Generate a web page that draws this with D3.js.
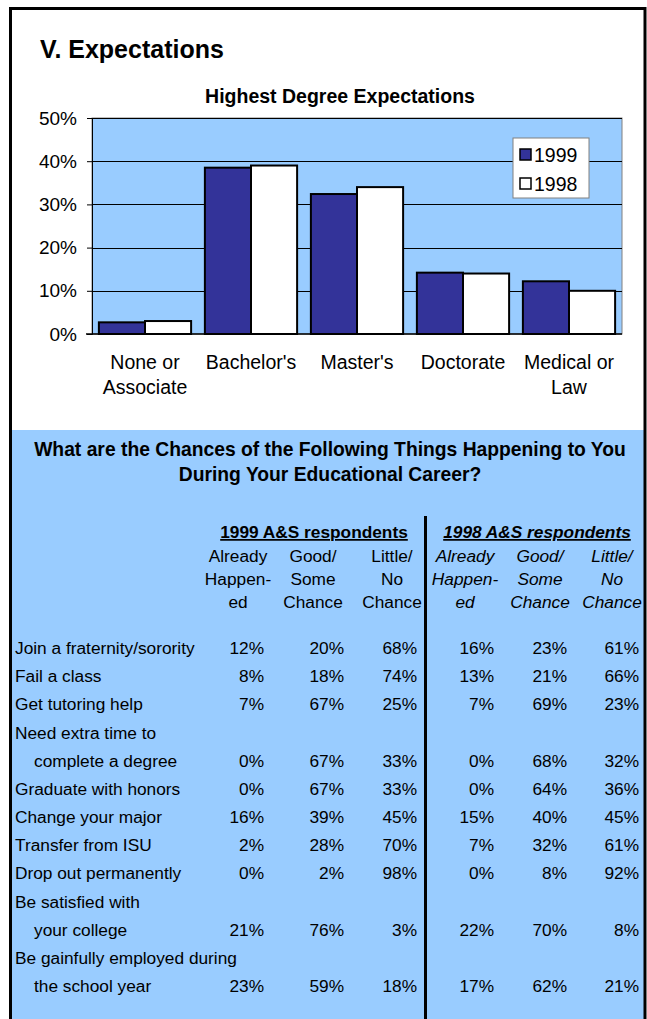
<!DOCTYPE html>
<html>
<head>
<meta charset="utf-8">
<script src="https://cdn.jsdelivr.net/npm/d3@7"></script>
<style>
	body { margin: 0; background: #fff; }
	svg text { font-family: "Liberation Sans", Arial, sans-serif; fill: #000; }
</style>
</head>
<body>
<div id="content"></div>
<script>
/***********************************************************************/
//Data
/***********************************************************************/
const degrees = [['None or', 'Associate'], ["Bachelor's"], ["Master's"], ['Doctorate'], ['Medical or', 'Law']]
const years = ['1999', '1998']
const deg1999 = [2.7, 38.5, 32.4, 14.2, 12.2]
const deg1998 = [3.0, 39.0, 34.0, 14.0, 10.0]
const yTickValues = [0, 10, 20, 30, 40, 50]

const items = [
	['Join a fraternity/sorority'],
	['Fail a class'],
	['Get tutoring help'],
	['Need extra time to', 'complete a degree'],
	['Graduate with honors'],
	['Change your major'],
	['Transfer from ISU'],
	['Drop out permanently'],
	['Be satisfied with', 'your college'],
	['Be gainfully employed during', 'the school year']
]
const already1999 = [12, 8, 7, 0, 0, 16, 2, 0, 21, 23]
const chance1999 = [20, 18, 67, 67, 67, 39, 28, 2, 76, 59]
const little1999 = [68, 74, 25, 33, 33, 45, 70, 98, 3, 18]
const already1998 = [16, 13, 7, 0, 0, 15, 7, 0, 22, 17]
const chance1998 = [23, 21, 69, 68, 64, 40, 32, 8, 70, 62]
const little1998 = [61, 66, 23, 32, 36, 45, 61, 92, 8, 21]
const colHeads = [['Already', 'Happen-', 'ed'], ['Good/', 'Some', 'Chance'], ['Little/', 'No', 'Chance']]

/***********************************************************************/
//Dom
/***********************************************************************/
const width = 647
const height = 1019
const navy = '#333399'
const lightBlue = '#99ccff'

const svg = d3.select('#content')
	.append('svg')
	.attr('width', width)
	.attr('height', height)

// lower blue panel
svg.append('rect')
	.attr('x', 12).attr('y', 430)
	.attr('width', 632).attr('height', height - 430)
	.attr('fill', lightBlue)

// frame
svg.append('path')
	.attr('d', `M10.5,${height}V8.5H645V${height}`)
	.attr('fill', 'none')
	.attr('stroke', '#000')
	.attr('stroke-width', 3)

svg.append('text')
	.attr('x', 40).attr('y', 58)
	.attr('font-size', '25px')
	.attr('font-weight', 'bold')
	.text('V. Expectations')

/***********************************************************************/
//Bar chart
/***********************************************************************/
const plot = { left: 92, right: 622, top: 118, bottom: 334 }

svg.append('text')
	.attr('x', 340).attr('y', 103)
	.attr('text-anchor', 'middle')
	.attr('font-size', '19.5px')
	.attr('font-weight', 'bold')
	.text('Highest Degree Expectations')

const xScale = d3.scaleBand()
	.domain(d3.range(degrees.length))
	.range([plot.left, plot.right])
	.paddingInner(0.13)
	.paddingOuter(0.065)

const xSub = d3.scaleBand()
	.domain(years)
	.range([0, xScale.bandwidth()])

const yScale = d3.scaleLinear()
	.domain([0, 50])
	.range([plot.bottom, plot.top])

svg.append('rect')
	.attr('x', plot.left).attr('y', plot.top)
	.attr('width', plot.right - plot.left)
	.attr('height', plot.bottom - plot.top)
	.attr('fill', lightBlue)
	.attr('stroke', '#808080')
	.attr('stroke-width', 1)

const yAxisG = svg.append('g')
	.attr('transform', `translate(${plot.left},0)`)
	.call(d3.axisLeft(yScale)
		.tickValues(yTickValues)
		.tickFormat(d => d + '%')
		.tickSize(5)
		.tickPadding(10))

yAxisG.select('.domain').attr('stroke', '#000')
yAxisG.selectAll('text')
	.attr('font-size', '19px')
	.attr('font-family', '"Liberation Sans", Arial, sans-serif')

// gridlines
svg.append('g')
	.selectAll('line')
	.data(yTickValues.filter(d => d > 0))
	.join('line')
	.attr('x1', plot.left).attr('x2', plot.right)
	.attr('y1', d => Math.round(yScale(d)) + 0.5)
	.attr('y2', d => Math.round(yScale(d)) + 0.5)
	.attr('stroke', '#000')
	.attr('stroke-width', 1)

const seriesVals = { '1999': deg1999, '1998': deg1998 }
const seriesFill = { '1999': navy, '1998': '#fff' }

const gBars = svg.append('g')
years.forEach(yr => {
	gBars.append('g')
		.selectAll('rect')
		.data(seriesVals[yr])
		.join('rect')
		.attr('x', (d, i) => xScale(i) + xSub(yr))
		.attr('y', d => yScale(d))
		.attr('width', xSub.bandwidth())
		.attr('height', d => plot.bottom - yScale(d))
		.attr('fill', seriesFill[yr])
		.attr('stroke', '#000')
		.attr('stroke-width', 2)
})

// x axis baseline
svg.append('line')
	.attr('x1', plot.left - 6).attr('x2', plot.right)
	.attr('y1', plot.bottom).attr('y2', plot.bottom)
	.attr('stroke', '#000')
	.attr('stroke-width', 1.5)

// category labels
const gXLabels = svg.append('g')
degrees.forEach((lines, i) => {
	lines.forEach((ln, j) => {
		gXLabels.append('text')
			.attr('x', xScale(i) + xScale.bandwidth() / 2)
			.attr('y', 369 + j * 25)
			.attr('text-anchor', 'middle')
			.attr('font-size', '19.5px')
			.text(ln)
	})
})

// legend
const legend = svg.append('g').attr('transform', 'translate(513,138)')
legend.append('rect')
	.attr('width', 76).attr('height', 60)
	.attr('fill', '#fff')
	.attr('stroke', '#808080')
years.forEach((yr, i) => {
	legend.append('rect')
		.attr('x', 7).attr('y', 11 + i * 29)
		.attr('width', 11).attr('height', 11)
		.attr('fill', seriesFill[yr])
		.attr('stroke', '#000')
		.attr('stroke-width', 1.5)
	legend.append('text')
		.attr('x', 21).attr('y', 24 + i * 29)
		.attr('font-size', '19.5px')
		.text(yr)
})

/***********************************************************************/
//Table
/***********************************************************************/
const qTitle = ['What are the Chances of the Following Things Happening to You', 'During Your Educational Career?']
qTitle.forEach((ln, i) => {
	svg.append('text')
		.attr('x', 330).attr('y', 456 + i * 25)
		.attr('text-anchor', 'middle')
		.attr('font-size', '19.3px')
		.attr('font-weight', 'bold')
		.text(ln)
})

// divider
svg.append('line')
	.attr('x1', 425.5).attr('x2', 425.5)
	.attr('y1', 516).attr('y2', height)
	.attr('stroke', '#000')
	.attr('stroke-width', 3)

const groups = [
	{ title: '1999 A&S respondents', cx: 314, italic: false, heads: [238, 313, 392], rights: [264, 344, 417], vals: [already1999, chance1999, little1999] },
	{ title: '1998 A&S respondents', cx: 537, italic: true, heads: [465, 540, 612], rights: [494, 567, 639], vals: [already1998, chance1998, little1998] }
]

const tFont = '17.3px'

groups.forEach(g => {
	svg.append('text')
		.attr('x', g.cx).attr('y', 538)
		.attr('text-anchor', 'middle')
		.attr('font-size', tFont)
		.attr('font-weight', 'bold')
		.attr('font-style', g.italic ? 'italic' : 'normal')
		.style('text-decoration', 'underline')
		.text(g.title)

	colHeads.forEach((lines, c) => {
		lines.forEach((ln, j) => {
			svg.append('text')
				.attr('x', g.heads[c]).attr('y', 562 + j * 23)
				.attr('text-anchor', 'middle')
				.attr('font-size', tFont)
				.attr('font-style', g.italic ? 'italic' : 'normal')
				.text(ln)
		})
	})
})

// rows: every label line takes one slot
const lineRows = []
items.forEach((lines, i) => {
	lines.forEach((ln, j) => {
		lineRows.push({ text: ln, indent: j > 0, item: i, last: j === lines.length - 1 })
	})
})

const rowY = d3.scaleLinear()
	.domain([0, lineRows.length - 1])
	.range([654, 992])

const gRows = svg.append('g')
lineRows.forEach((r, k) => {
	gRows.append('text')
		.attr('x', r.indent ? 34 : 15)
		.attr('y', rowY(k))
		.attr('font-size', tFont)
		.text(r.text)

	if (!r.last) return
	groups.forEach(g => {
		g.vals.forEach((arr, c) => {
			gRows.append('text')
				.attr('x', g.rights[c])
				.attr('y', rowY(k))
				.attr('text-anchor', 'end')
				.attr('font-size', tFont)
				.text(arr[r.item] + '%')
		})
	})
})
</script>
</body>
</html>
